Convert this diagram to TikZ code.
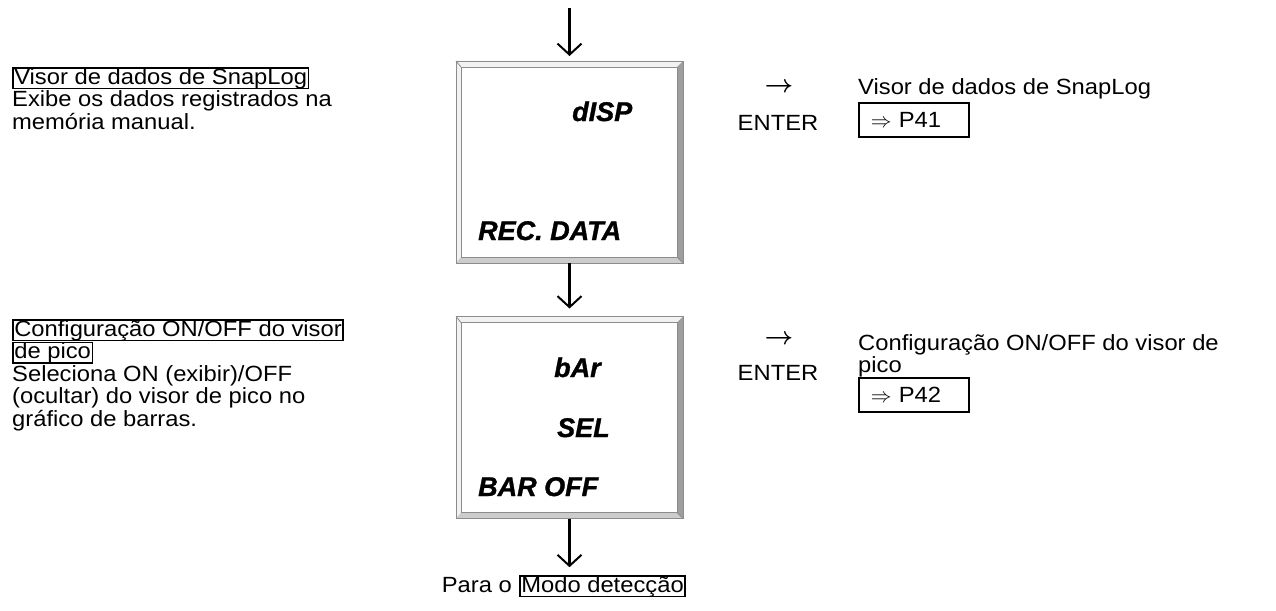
\documentclass[tikz,border=0pt]{standalone}
\usepackage{fontspec}
\setmainfont{Liberation Sans}[FakeStretch=1.08]
\newfontfamily\lcdfamily{Liberation Sans Bold Italic}[FakeBold=1.2]
\usetikzlibrary{positioning, arrows.meta, calc}

\definecolor{bevelhi}{gray}{0.95}
\definecolor{bevellow}{gray}{0.62}
\definecolor{bevelbot}{gray}{0.80}
\definecolor{bevelline}{gray}{0.55}

\newcommand{\bodyfont}{\fontsize{22}{22.5}\selectfont}
\newcommand{\lcdfont}{\fontsize{27}{27}\selectfont\lcdfamily}

% raised frame round a display window
\newcommand{\bevelframe}[1]{%
  \fill[bevelhi] (#1.north west) -- (#1.north east) -- ([shift={(-6pt,-6pt)}]#1.north east)
    -- ([shift={(5pt,-6pt)}]#1.north west) -- cycle;
  \fill[bevelhi] (#1.north west) -- ([shift={(5pt,-6pt)}]#1.north west)
    -- ([shift={(5pt,6pt)}]#1.south west) -- (#1.south west) -- cycle;
  \fill[bevellow] (#1.north east) -- (#1.south east) -- ([shift={(-6pt,6pt)}]#1.south east)
    -- ([shift={(-6pt,-6pt)}]#1.north east) -- cycle;
  \fill[bevelbot] (#1.south west) -- ([shift={(5pt,6pt)}]#1.south west)
    -- ([shift={(-6pt,6pt)}]#1.south east) -- (#1.south east) -- cycle;
  \draw[bevelline, line width=0.8pt] (#1.north west) rectangle (#1.south east);
  \draw[bevelline, line width=0.8pt] ([shift={(5pt,-6pt)}]#1.north west) rectangle ([shift={(-6pt,6pt)}]#1.south east);
  \draw[bevelline, line width=0.8pt] (#1.north west) -- ([shift={(5pt,-6pt)}]#1.north west)
    (#1.south east) -- ([shift={(-6pt,6pt)}]#1.south east);
}

\begin{document}
\begin{tikzpicture}[x=1pt, y=-1pt,
    body/.style={font=\bodyfont, inner sep=0pt},
    hdr/.style={body, draw, line width=1.6pt, inner xsep=1.5pt, text height=16pt, text depth=4.5pt},
    lcd/.style={font=\lcdfont, inner sep=0pt},
    keyarrow/.style={font=\fontsize{26}{26}\selectfont\boldmath, inner sep=0pt},
    lcdbox/.style={minimum width=227pt, minimum height=202pt, inner sep=0pt, outer sep=0pt},
    refbox/.style={body, draw, line width=1.6pt, text width=86pt, inner xsep=12pt,
      minimum height=34pt, align=left},
    flow/.style={line width=2.6pt, -{Straight Barb[length=11pt, width=24pt, line width=2pt]}}]
  \useasboundingbox (0,0) rectangle (1276,610);

  % display windows
  \node[lcdbox] (box1) at (569.5,162) {};
  \node[lcdbox] (box2) at (569.5,417.5) {};
  \bevelframe{box1}
  \bevelframe{box2}
  \node[lcd, anchor=base west] (dispL) at (572,121) {dISP};
  \node[lcd, anchor=base west] (recL) at (478,240) {REC. DATA};
  \node[lcd, anchor=base west] (barL) at (554,377) {bAr};
  \node[lcd, anchor=base west] (selL) at (557,437) {SEL};
  \node[lcd, anchor=base west] (offL) at (478,496) {BAR OFF};

  % flow between the windows
  \coordinate (start) at (569.5,8);
  \node[hdr, anchor=base west] (modo) at (519,592) {Modo detecção};
  \node[body, anchor=base east] (para) at (512,592) {Para o};
  \draw[flow, shorten >=5pt] (start) -- (box1.north);
  \draw[flow, shorten >=8pt] (box1.south) -- (box2.north);
  \draw[flow, shorten >=8pt] (box2.south) -- (box2.south |- modo.north);

  % left: what each window does
  \node[hdr, anchor=base west] (visorHd) at (12,84) {Visor de dados de SnapLog};
  \node[body, align=left, anchor=base west] (visorTx) at (12,129)
    {Exibe os dados registrados na\\memória manual.};
  \node[hdr, anchor=base west] (confHd) at (12,336) {Configuração ON/OFF do visor};
  \node[hdr, anchor=base west] (picoHd) at (12,358.5) {de pico};
  \node[body, align=left, anchor=base west] (confTx) at (12,426)
    {Seleciona ON (exibir)/OFF\\(ocultar) do visor de pico no\\gráfico de barras.};

  % right: ENTER leads on
  \node[keyarrow] (arrA) at (779,88) {$\rightarrow$};
  \node[body] (entA) at (778,123) {ENTER};
  \node[body, anchor=base west] (goA) at (858,94) {Visor de dados de SnapLog};
  \node[refbox, anchor=north west] (refA) at (858,102) {$\Rightarrow$ P41};
  \node[keyarrow] (arrB) at (779,340) {$\rightarrow$};
  \node[body] (entB) at (778,373) {ENTER};
  \node[body, align=left, anchor=base west] (goB) at (858,372.5)
    {Configuração ON/OFF do visor de\\pico};
  \node[refbox, anchor=north west] (refB) at (858,377) {$\Rightarrow$ P42};
\end{tikzpicture}
\end{document}
